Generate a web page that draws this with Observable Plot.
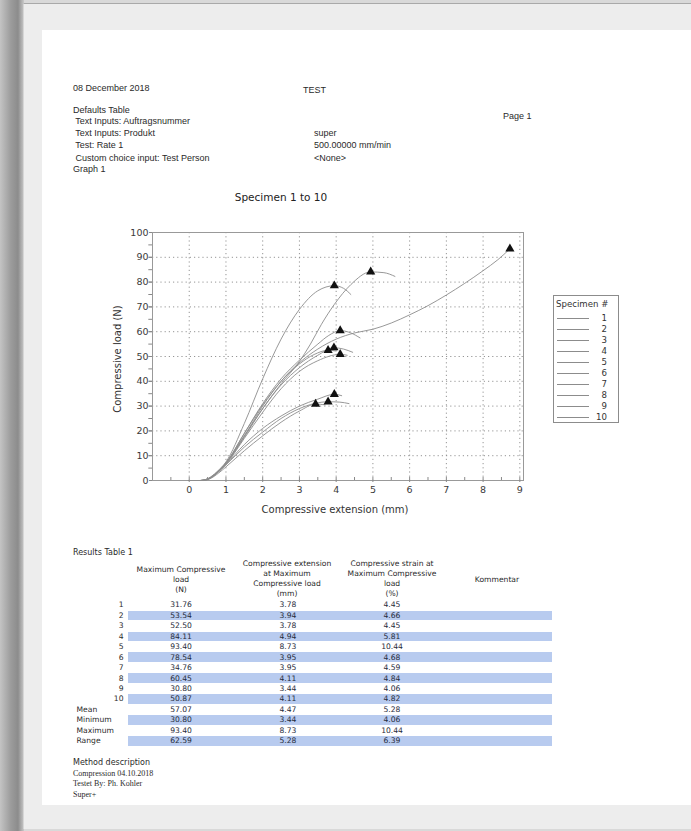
<!DOCTYPE html>
<html>
<head>
<meta charset="utf-8">
<script src="https://cdn.jsdelivr.net/npm/d3@7"></script>
<script src="https://cdn.jsdelivr.net/npm/@observablehq/plot@0.6"></script>
<style>
  html, body { margin: 0; padding: 0; }
  body { width: 691px; height: 831px; overflow: hidden; position: relative; background: #d9d9d9; }
  .t { position: absolute; white-space: pre; color: #2a2a2a; }
</style>
</head>
<body>
<div style="position:absolute;left:0;top:0;width:24px;height:831px;background:linear-gradient(to right,#c4c4c4 0%,#9c9c9c 45%,#8c8c8c 75%,#c9c9c9 100%)"></div>
<div style="position:absolute;left:23px;top:3px;width:668px;height:826px;background:#ededed;border-top:1px solid #a9a9a9;border-left:1px solid #d6d6d6;box-sizing:border-box"></div>
<div style="position:absolute;left:42px;top:30px;width:649px;height:775px;background:#ffffff"></div>
<div id="chart" style="position:absolute;left:100px;top:215px;"></div>
<div id="legend" style="position:absolute;left:553px;top:295px;width:66px;height:128px;border:1px solid #8c8c8c;box-sizing:border-box;background:#fff"></div>
<script>
// ---------- Specimen results ----------
const specimens   = [1, 2, 3, 4, 5, 6, 7, 8, 9, 10];
const peakLoad    = [31.76, 53.54, 52.50, 84.11, 93.40, 78.54, 34.76, 60.45, 30.80, 50.87];
const peakExt     = [3.78, 3.94, 3.78, 4.94, 8.73, 3.95, 3.95, 4.11, 3.44, 4.11];
const peakStrain  = [4.45, 4.66, 4.45, 5.81, 10.44, 4.68, 4.59, 4.84, 4.06, 4.82];
const statLabels  = ["Mean", "Minimum", "Maximum", "Range"];
const statLoad    = [57.07, 30.80, 93.40, 62.59];
const statExt     = [4.47, 3.44, 8.73, 5.28];
const statStrain  = [5.28, 4.06, 10.44, 6.39];

// ---------- Load / extension curves (estimated from the graph) ----------
const ext1  = [0, 0.35, 0.5, 0.75, 1, 1.5, 2, 2.5, 3, 3.4, 3.78, 4.1, 4.35];
const load1 = [0, 0, 0.5, 3, 6.3, 13.5, 19.5, 25, 29, 31, 31.76, 31.6, 31];
const ext2  = [0, 0.3, 0.5, 0.75, 1, 1.5, 2, 2.5, 3, 3.5, 3.94, 4.2, 4.45];
const load2 = [0, 0, 0.5, 3, 6.8, 17.5, 29, 38.5, 45.5, 50.5, 53.54, 53, 51.7];
const ext3  = [0, 0.3, 0.5, 0.75, 1, 1.5, 2, 2.5, 3, 3.4, 3.78, 4.0];
const load3 = [0, 0, 0.6, 3.2, 7, 19, 30.5, 40, 47, 50.8, 52.5, 52.2];
const ext4  = [0, 0.3, 0.5, 0.75, 1, 1.5, 2, 2.5, 3, 3.3, 3.6, 3.95, 4.4, 4.94, 5.3, 5.6];
const load4 = [0, 0, 0.6, 3, 7, 18, 29, 39, 48, 55, 63, 71, 79, 84.11, 83.8, 82.3];
const ext5  = [0, 0.3, 0.5, 0.75, 1, 1.5, 2, 2.5, 3, 3.5, 4, 4.5, 5, 5.5, 6, 6.5, 7, 7.5, 8, 8.4, 8.73];
const load5 = [0, 0, 0.6, 3, 7, 18, 30, 40, 47.5, 53, 57, 59.5, 61, 63.5, 66.8, 70.5, 74.8, 79.5, 84.6, 89, 93.4];
const ext6  = [0, 0.3, 0.5, 0.75, 1, 1.5, 2, 2.5, 3, 3.5, 3.95, 4.2, 4.4];
const load6 = [0, 0, 0.7, 3.5, 7.5, 23, 41, 57, 69, 76.5, 78.54, 77.5, 75];
const ext7  = [0, 0.35, 0.5, 0.75, 1, 1.5, 2, 2.5, 3, 3.5, 3.95, 4.15];
const load7 = [0, 0, 0.5, 3, 6.5, 14.5, 21, 26, 30, 32.8, 34.76, 34.2];
const ext8  = [0, 0.3, 0.5, 0.75, 1, 1.5, 2, 2.5, 3, 3.5, 3.8, 4.11, 4.4, 4.65];
const load8 = [0, 0, 0.6, 3.2, 7.2, 19, 31, 41, 48.5, 55, 58.5, 60.45, 59.5, 57.5];
const ext9  = [0, 0.4, 0.55, 0.8, 1, 1.5, 2, 2.5, 3, 3.44, 3.7];
const load9 = [0, 0, 0.6, 3, 5.5, 12, 18, 23.5, 28, 30.8, 30.5];
const ext10  = [0, 0.35, 0.5, 0.75, 1, 1.5, 2, 2.5, 3, 3.5, 4.11, 4.3];
const load10 = [0, 0, 0.4, 2.8, 6.5, 17, 27.5, 37, 44, 48.3, 50.87, 50.5];

// ---------- Axis ticks ----------
const xTicks = [0, 1, 2, 3, 4, 5, 6, 7, 8, 9];
const yTicks = [0, 10, 20, 30, 40, 50, 60, 70, 80, 90, 100];
const xMinor = d3.range(-0.5, 9.01, 0.5);
const yMinor = d3.range(5, 100, 5);

const curveExt  = [ext1, ext2, ext3, ext4, ext5, ext6, ext7, ext8, ext9, ext10];
const curveLoad = [load1, load2, load3, load4, load5, load6, load7, load8, load9, load10];
const rows = [];
specimens.forEach((s, i) => curveExt[i].forEach((x, j) => rows.push({specimen: s, ext: x, load: curveLoad[i][j]})));
const peaks = specimens.map((s, i) => ({specimen: s, ext: peakExt[i], load: peakLoad[i]}));

const chart = Plot.plot({
  width: 440, height: 305,
  marginLeft: 52, marginRight: 17, marginTop: 17, marginBottom: 40,
  x: {domain: [-1, 9.1]},
  y: {domain: [0, 100]},
  style: {fontFamily: "DejaVu Sans", fontSize: "9.5px", color: "#3a3a3a", background: "transparent"},
  marks: [
    Plot.gridX(xTicks, {stroke: "#8a8a8a", strokeOpacity: 0.9, strokeDasharray: "1.2,3"}),
    Plot.gridY(yTicks.filter(d => d > 0 && d < 100), {stroke: "#8a8a8a", strokeOpacity: 0.9, strokeDasharray: "1.2,3"}),
    Plot.ruleX(xMinor, {y1: 0, y2: 1.2, stroke: "#888"}),
    Plot.ruleY(yMinor, {x1: -1.1, x2: -1, stroke: "#888", clip: false}),
    Plot.frame({stroke: "#999"}),
    Plot.axisX(xTicks, {tickSize: 2, tickPadding: 4, label: null, stroke: "#888"}),
    Plot.axisY(yTicks, {tickSize: 3, tickPadding: 1, label: null, stroke: "#888"}),
    Plot.line(rows, {x: "ext", y: "load", z: "specimen", stroke: "#8c8c8c", strokeWidth: 0.9, curve: "monotone-x"}),
    Plot.dot(peaks, {x: "ext", y: "load", symbol: "triangle", fill: "#111", stroke: "none", r: 3.4})
  ]
});
document.getElementById("chart").appendChild(chart);

// ---------- text helper ----------
function txt(str, x, y, opt = {}) {
  const size = opt.size || 9;
  const d = document.createElement("div");
  d.className = "t";
  d.textContent = str;
  d.style.fontFamily = opt.font || "'Liberation Sans', Arial, sans-serif";
  d.style.fontSize = size + "px";
  d.style.lineHeight = (size * 1.2) + "px";
  d.style.left = x + "px";
  d.style.top = (y - size * 0.6) + "px";
  if (opt.color) d.style.color = opt.color;
  const a = opt.anchor || "start";
  let tr = a === "middle" ? "translateX(-50%)" : a === "end" ? "translateX(-100%)" : "";
  d.style.transform = tr;
  document.body.appendChild(d);
  return d;
}
const DV = "'DejaVu Sans', Verdana, sans-serif";
const SERIF = "'Liberation Serif', 'Times New Roman', serif";

// header
txt("08 December 2018", 73, 88.5);
txt("TEST", 303, 90);
txt("Defaults Table", 73, 110);
txt("Page 1", 503, 116);
txt(" Text Inputs: Auftragsnummer", 73, 121.7);
txt(" Text Inputs: Produkt", 73, 133.3);
txt(" Test: Rate 1", 73, 145.7);
txt(" Custom choice input: Test Person", 73, 158.3);
txt("super", 314, 133.3);
txt("500.00000 mm/min", 314, 145.7);
txt("<None>", 314, 158.3);
txt("Graph 1", 73, 169);

// chart title & axis labels
txt("Specimen 1 to 10", 281, 197, {size: 10.5, font: DV, anchor: "middle", color: "#222"});
txt("Compressive extension (mm)", 335, 510, {size: 10, font: DV, anchor: "middle", color: "#333"});
const yl = txt("Compressive load (N)", 118, 359, {size: 10, font: DV, color: "#333"});
yl.style.transform = "translate(-50%, 0) rotate(-90deg)";
yl.style.transformOrigin = "50% 50%";

// legend
txt("Specimen #", 556, 304.5, {size: 8.6, font: DV, color: "#333"});
specimens.forEach((s, i) => {
  const y = 318.3 + i * 10.94;
  const ln = document.createElement("div");
  ln.style.cssText = `position:absolute;left:557px;top:${y}px;width:32px;height:0;border-top:1px solid #8c8c8c`;
  document.body.appendChild(ln);
  txt(String(s), 607, y, {size: 8.6, font: DV, anchor: "end", color: "#333"});
});

// results table
txt("Results Table 1", 73, 552.7, {size: 8, font: DV});
const hdr = [
  {x: 181, lines: ["Maximum Compressive", "load", "(N)"], y0: 569.3},
  {x: 287, lines: ["Compressive extension", "at Maximum", "Compressive load", "(mm)"], y0: 563.3},
  {x: 392, lines: ["Compressive strain at", "Maximum Compressive", "load", "(%)"], y0: 563.3},
  {x: 497, lines: ["Kommentar"], y0: 579.3}
];
hdr.forEach(h => h.lines.forEach((l, k) => txt(l, h.x, h.y0 + k * 10.2, {size: 7.6, font: DV, anchor: "middle"})));

const rowStep = 10.44, row0 = 605;
const allLabels = specimens.map(String).concat(statLabels);
const colLoad = peakLoad.concat(statLoad);
const colExt = peakExt.concat(statExt);
const colStrain = peakStrain.concat(statStrain);
allLabels.forEach((lab, i) => {
  const y = row0 + i * rowStep;
  if (i % 2 === 1) {
    const b = document.createElement("div");
    b.style.cssText = `position:absolute;left:128px;top:${y - 4.8}px;width:424px;height:9.6px;background:#b8cbef`;
    document.body.appendChild(b);
  }
  if (i < 10) txt(lab, 123.5, y, {size: 7.6, font: DV, anchor: "end"});
  else txt(lab, 76.5, y, {size: 7.6, font: DV});
  txt(colLoad[i].toFixed(2), 181, y, {size: 7.6, font: DV, anchor: "middle", color: "#1f2a3a"});
  txt(colExt[i].toFixed(2), 288, y, {size: 7.6, font: DV, anchor: "middle", color: "#1f2a3a"});
  txt(colStrain[i].toFixed(2), 392, y, {size: 7.6, font: DV, anchor: "middle", color: "#1f2a3a"});
});

// method description
txt("Method description", 73, 762.7, {size: 8, font: DV});
txt("Compression 04.10.2018", 73, 773.3, {size: 8, font: SERIF});
txt("Testet By: Ph. Kohler", 73, 784, {size: 8, font: SERIF});
txt("Super+", 73, 794.7, {size: 8, font: SERIF});
</script>
</body>
</html>
